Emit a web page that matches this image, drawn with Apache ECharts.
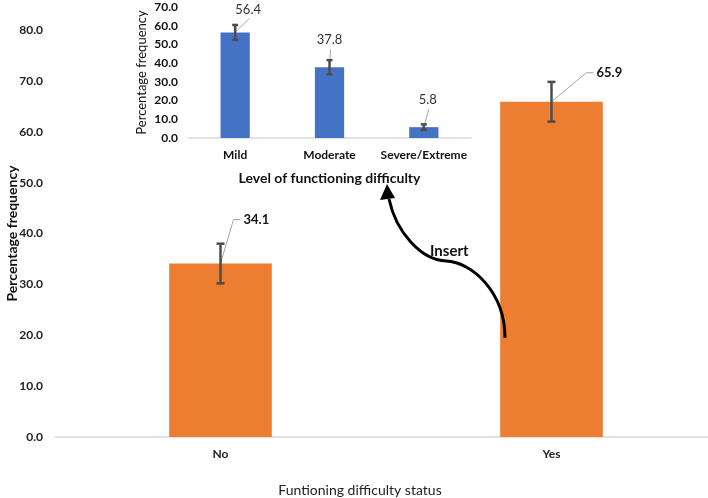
<!DOCTYPE html>
<html>
  <head>
    <meta charset="utf-8" />
    <title>Functioning difficulty</title>
    <script src="https://cdn.jsdelivr.net/npm/echarts@6.0.0/dist/echarts.min.js"></script>
    <style>
      html, body { margin: 0; padding: 0; background: #fff; }
    </style>
  </head>
  <body>
    <div id="chart" style="width: 708px;height:498px;"></div>
    <script>
        // main chart: functioning difficulty status
        var statusCategories = ['No', 'Yes'];
        var statusValues = [34.1, 65.9];
        var statusErrors = [3.9, 3.9];

        // inset: level of functioning difficulty
        var levelCategories = ['Mild', 'Moderate', 'Severe/Extreme'];
        var levelValues = [56.4, 37.8, 5.8];
        var levelErrors = [4.0, 3.8, 1.5];

        var FONT = 'Lato, "Open Sans", sans-serif';
        var myChart = echarts.init(document.getElementById('chart'));

        // label offsets (px) from bar top, like the dragged Excel callouts
        var statusCallouts = [[23, -44], [45, -29]];
        var levelCallouts = [[13, -23], [0, -27], [4, -27]];

        function errorBarItem(api, capHalf) {
          var idx = api.value(0), v = api.value(1), e = api.value(2);
          var hi = api.coord([idx, v + e]);
          var lo = api.coord([idx, v - e]);
          var st = { stroke: '#4d4d4d', lineWidth: 2.5 };
          return [
            { type: 'line', shape: { x1: hi[0], y1: hi[1], x2: lo[0], y2: lo[1] }, style: st },
            { type: 'line', shape: { x1: hi[0] - capHalf, y1: hi[1], x2: hi[0] + capHalf, y2: hi[1] }, style: st },
            { type: 'line', shape: { x1: lo[0] - capHalf, y1: lo[1], x2: lo[0] + capHalf, y2: lo[1] }, style: st }
          ];
        }

        function renderStatus(params, api) {
          var idx = api.value(0), v = api.value(1);
          var top = api.coord([idx, v]);
          var off = statusCallouts[params.dataIndex];
          var tx = top[0] + off[0], ty = top[1] + off[1];
          var children = [
            { type: 'polyline', shape: { points: [[top[0], top[1]], [tx - 10, ty], [tx - 3, ty]] },
              style: { stroke: '#a6a6a6', lineWidth: 1, fill: null } }
          ].concat(errorBarItem(api, 4));
          children.push({ type: 'text', style: {
            text: v.toFixed(1), x: tx, y: ty, align: 'left', verticalAlign: 'middle',
            fontFamily: FONT, fontSize: 13, fontWeight: 'bold', fill: '#111' } });
          return { type: 'group', children: children };
        }

        function renderLevel(params, api) {
          var idx = api.value(0), v = api.value(1);
          var top = api.coord([idx, v]);
          var off = levelCallouts[params.dataIndex];
          var tx = top[0] + off[0], ty = top[1] + off[1];
          var children = [
            { type: 'line', shape: { x1: top[0], y1: top[1], x2: tx + 1, y2: ty + 9 },
              style: { stroke: '#a6a6a6', lineWidth: 1 } }
          ].concat(errorBarItem(api, 3));
          children.push({ type: 'text', style: {
            text: v.toFixed(1), x: tx, y: ty, align: 'center', verticalAlign: 'middle',
            fontFamily: FONT, fontSize: 13, fill: '#333' } });
          return { type: 'group', children: children };
        }

        var tickFmt = function (v) { return v.toFixed(1); };

        var option = {
          animation: false,
          grid: [
            { left: 55, top: 30, width: 662, height: 407, outerBoundsMode: 'none', containLabel: false },
            { left: 188, top: 7, width: 283, height: 131, outerBoundsMode: 'none', containLabel: false }
          ],
          xAxis: [
            {
              type: 'category', gridIndex: 0, data: statusCategories,
              name: 'Funtioning difficulty status', nameLocation: 'middle', nameGap: 46,
              nameTextStyle: { fontFamily: FONT, fontSize: 14, color: '#222', padding: [0, 52, 0, 0] },
              axisLine: { lineStyle: { color: '#d9d9d9', width: 1.5 } },
              axisTick: { show: false },
              axisLabel: { margin: 11, interval: 0, fontFamily: FONT, fontSize: 12, fontWeight: 'bold', color: '#222' }
            },
            {
              type: 'category', gridIndex: 1, data: levelCategories,
              name: 'Level of functioning difficulty', nameLocation: 'middle', nameGap: 33,
              nameTextStyle: { fontFamily: FONT, fontSize: 14, fontWeight: 'bold', color: '#111' },
              axisLine: { lineStyle: { color: '#d9d9d9', width: 1.5 } },
              axisTick: { show: false },
              axisLabel: { margin: 11, interval: 0, fontFamily: FONT, fontSize: 12, fontWeight: 'bold', color: '#111' }
            }
          ],
          yAxis: [
            {
              type: 'value', gridIndex: 0, min: 0, max: 80, interval: 10,
              name: 'Percentage frequency', nameLocation: 'middle', nameGap: 36, nameMoveOverlap: false,
              nameTextStyle: { fontFamily: FONT, fontSize: 14, fontWeight: 'bold', color: '#111' },
              axisLine: { show: false }, axisTick: { show: false }, splitLine: { show: false },
              axisLabel: { margin: 12, formatter: tickFmt, fontFamily: FONT, fontSize: 12, fontWeight: 'bold', color: '#222' }
            },
            {
              type: 'value', gridIndex: 1, min: 0, max: 70, interval: 10,
              name: 'Percentage frequency', nameLocation: 'middle', nameGap: 40,
              nameTextStyle: { fontFamily: FONT, fontSize: 13, color: '#111' },
              axisLine: { show: false }, axisTick: { show: false }, splitLine: { show: false },
              axisLabel: { margin: 10, formatter: tickFmt, fontFamily: FONT, fontSize: 12, fontWeight: 'bold', color: '#111' }
            }
          ],
          series: [
            {
              type: 'bar', xAxisIndex: 0, yAxisIndex: 0, data: statusValues,
              barWidth: '31%', itemStyle: { color: '#ED7D31' }
            },
            {
              type: 'custom', xAxisIndex: 0, yAxisIndex: 0, clip: false, z: 5,
              renderItem: renderStatus,
              data: statusValues.map(function (v, i) { return [i, v, statusErrors[i]]; })
            },
            {
              type: 'bar', xAxisIndex: 1, yAxisIndex: 1, data: levelValues,
              barWidth: '31%', itemStyle: { color: '#4472C4' }
            },
            {
              type: 'custom', xAxisIndex: 1, yAxisIndex: 1, clip: false, z: 5,
              renderItem: renderLevel,
              data: levelValues.map(function (v, i) { return [i, v, levelErrors[i]]; })
            }
          ],
          graphic: [
            {
              type: 'bezierCurve', z: 100,
              shape: { x1: 505, y1: 338, cpx1: 505, cpy1: 292, cpx2: 472, cpy2: 262, x2: 446, y2: 261 },
              style: { stroke: '#000', lineWidth: 3, fill: null }
            },
            {
              type: 'bezierCurve', z: 100,
              shape: { x1: 446, y1: 261, cpx1: 421, cpy1: 260, cpx2: 396, cpy2: 232, x2: 389, y2: 199 },
              style: { stroke: '#000', lineWidth: 3, fill: null }
            },
            {
              type: 'polygon', z: 100,
              shape: { points: [[387, 184], [380, 200], [395, 198]] },
              style: { fill: '#000' }
            },
            {
              type: 'text', left: 430, top: 244, z: 100,
              style: { text: 'Insert', fontFamily: FONT, fontSize: 15, fontWeight: 'bold', fill: '#111' }
            }
          ]
        };

        myChart.setOption(option);
    </script>
  </body>
</html>
